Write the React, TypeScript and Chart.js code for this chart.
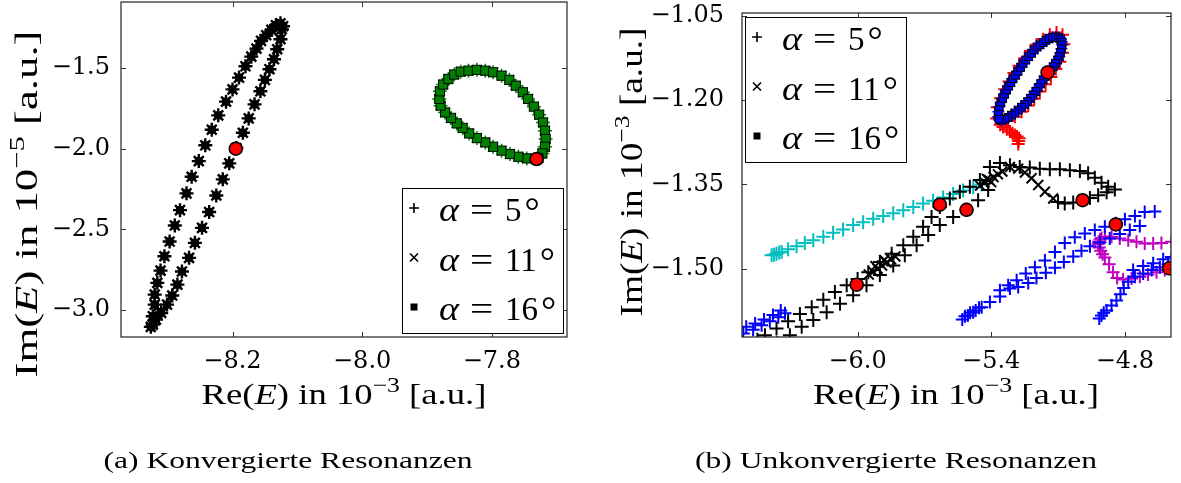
import React, { useEffect, useRef } from "react";
import { Chart, registerables } from "chart.js";

Chart.register(...registerables);

type Pt = [number, number];
type Seg = { t: string; it?: boolean; sup?: boolean };

// ---------- Panel (a): converged resonances ----------
const convXTicks = [-8.2, -8.0, -7.8];
const convYTicks = [-1.5, -2.0, -2.5, -3.0];
const convXLimits = [-8.372, -7.684];
const convYLimits = [-3.168, -1.09];

// elongated black orbit (Re in 1e-3, Im in 1e-5)
const convBlack: Pt[] = [
  [-8.326, -3.105], [-8.323, -3.091], [-8.323, -3.039], [-8.320, -2.967], [-8.320, -2.905],
  [-8.316, -2.832], [-8.311, -2.756], [-8.305, -2.667], [-8.297, -2.576], [-8.289, -2.476],
  [-8.281, -2.381], [-8.271, -2.277], [-8.263, -2.174], [-8.252, -2.077], [-8.242, -1.979],
  [-8.232, -1.882], [-8.222, -1.793], [-8.210, -1.708], [-8.200, -1.632], [-8.190, -1.559],
  [-8.180, -1.489], [-8.171, -1.429], [-8.163, -1.379], [-8.156, -1.331], [-8.148, -1.296],
  [-8.140, -1.263], [-8.133, -1.234], [-8.126, -1.222], [-8.122, -1.240], [-8.124, -1.259],
  [-8.126, -1.321], [-8.131, -1.383], [-8.136, -1.445], [-8.143, -1.507], [-8.150, -1.573],
  [-8.157, -1.644], [-8.166, -1.725], [-8.175, -1.812], [-8.184, -1.901], [-8.194, -1.996],
  [-8.205, -2.091], [-8.215, -2.190], [-8.225, -2.290], [-8.236, -2.393], [-8.247, -2.491],
  [-8.258, -2.584], [-8.267, -2.677], [-8.278, -2.762], [-8.285, -2.843], [-8.293, -2.911],
  [-8.301, -2.967], [-8.310, -3.019], [-8.318, -3.060],
];

// green closed loop
const convGreen: Pt[] = [
  [-7.731, -2.064], [-7.746, -2.060], [-7.759, -2.050], [-7.772, -2.033], [-7.785, -2.012],
  [-7.798, -1.988], [-7.810, -1.961], [-7.823, -1.934], [-7.835, -1.905], [-7.845, -1.871],
  [-7.854, -1.843], [-7.863, -1.809], [-7.872, -1.775], [-7.879, -1.733], [-7.881, -1.691],
  [-7.880, -1.644], [-7.875, -1.602], [-7.867, -1.567], [-7.858, -1.540], [-7.848, -1.522],
  [-7.836, -1.516], [-7.823, -1.511], [-7.810, -1.516], [-7.798, -1.526], [-7.785, -1.547],
  [-7.773, -1.573], [-7.763, -1.609], [-7.752, -1.650], [-7.744, -1.691], [-7.735, -1.739],
  [-7.727, -1.789], [-7.721, -1.837], [-7.718, -1.888], [-7.717, -1.940], [-7.718, -1.988],
  [-7.722, -2.029], [-7.728, -2.058],
];

const convMarked: Pt[] = [[-8.195, -2.0], [-7.731, -2.064]];

// ---------- Panel (b): unconverged resonances ----------
const unconvXTicks = [-6.0, -5.4, -4.8];
const unconvYTicks = [-1.05, -1.2, -1.35, -1.5];
const unconvXLimits = [-6.519, -4.593];
const unconvYLimits = [-1.621, -1.0455];

const ringBlue: Pt[] = [
  [-5.369, -1.230], [-5.368, -1.221], [-5.364, -1.212], [-5.357, -1.204], [-5.349, -1.197],
  [-5.340, -1.189], [-5.331, -1.182], [-5.322, -1.175], [-5.312, -1.169], [-5.302, -1.162],
  [-5.291, -1.156], [-5.280, -1.149], [-5.268, -1.142], [-5.257, -1.135], [-5.245, -1.129],
  [-5.232, -1.123], [-5.219, -1.117], [-5.207, -1.111], [-5.194, -1.106], [-5.181, -1.102],
  [-5.167, -1.098], [-5.154, -1.094], [-5.140, -1.091], [-5.125, -1.089], [-5.110, -1.088],
  [-5.098, -1.089], [-5.088, -1.092], [-5.083, -1.097], [-5.082, -1.102], [-5.085, -1.109],
  [-5.089, -1.116], [-5.095, -1.123], [-5.102, -1.129], [-5.112, -1.135], [-5.122, -1.141],
  [-5.134, -1.147], [-5.147, -1.152], [-5.157, -1.158], [-5.167, -1.164], [-5.178, -1.171],
  [-5.189, -1.178], [-5.200, -1.185], [-5.212, -1.191], [-5.224, -1.197], [-5.237, -1.203],
  [-5.250, -1.208], [-5.264, -1.213], [-5.279, -1.218], [-5.294, -1.223], [-5.309, -1.227],
  [-5.324, -1.231], [-5.339, -1.234], [-5.354, -1.236], [-5.364, -1.234],
];

const ringRed: Pt[] = [
  [-5.376, -1.233], [-5.373, -1.213], [-5.358, -1.197], [-5.339, -1.181], [-5.320, -1.167],
  [-5.298, -1.152], [-5.275, -1.139], [-5.250, -1.126], [-5.224, -1.113], [-5.197, -1.102],
  [-5.167, -1.092], [-5.137, -1.084], [-5.107, -1.080], [-5.080, -1.084], [-5.074, -1.101],
  [-5.080, -1.116], [-5.092, -1.132], [-5.110, -1.145], [-5.132, -1.159], [-5.156, -1.172],
  [-5.182, -1.185], [-5.207, -1.198], [-5.234, -1.210], [-5.264, -1.221], [-5.294, -1.230],
  [-5.324, -1.237], [-5.360, -1.244], [-5.347, -1.248], [-5.330, -1.252], [-5.316, -1.256],
  [-5.305, -1.259], [-5.294, -1.262], [-5.284, -1.265], [-5.275, -1.268], [-5.277, -1.273],
  [-5.279, -1.278],
];

const blackPlus: Pt[] = [
  // upper strand
  [-6.450, -1.626], [-6.416, -1.618], [-6.364, -1.606], [-6.312, -1.593], [-6.259, -1.580],
  [-6.206, -1.568], [-6.154, -1.555], [-6.102, -1.541], [-6.049, -1.529], [-6.000, -1.518],
  [-5.952, -1.506], [-5.900, -1.488], [-5.847, -1.473], [-5.795, -1.458], [-5.750, -1.443],
  [-5.706, -1.425], [-5.668, -1.408], [-5.631, -1.390], [-5.586, -1.375], [-5.541, -1.363],
  [-5.496, -1.354], [-5.451, -1.342],
  // lower strand
  [-6.360, -1.632], [-6.304, -1.618], [-6.251, -1.603], [-6.199, -1.591], [-6.139, -1.577],
  [-6.079, -1.562], [-6.020, -1.547], [-5.960, -1.529], [-5.900, -1.511], [-5.840, -1.494],
  [-5.788, -1.476], [-5.735, -1.458], [-5.683, -1.440], [-5.631, -1.422], [-5.571, -1.408],
  [-5.511, -1.395], [-5.459, -1.378], [-5.414, -1.360],
  // loop
  [-5.406, -1.319], [-5.361, -1.312], [-5.316, -1.316], [-5.272, -1.319], [-5.227, -1.320],
  [-5.182, -1.322], [-5.137, -1.323], [-5.092, -1.323], [-5.047, -1.325], [-5.002, -1.326],
  [-4.965, -1.330], [-4.935, -1.338], [-4.905, -1.347], [-4.875, -1.354], [-4.845, -1.359],
  [-4.882, -1.364], [-4.920, -1.369], [-4.957, -1.374], [-5.032, -1.382], [-5.070, -1.384],
  [-5.100, -1.381],
];

const blackCross: Pt[] = [
  [-5.122, -1.375], [-5.159, -1.363], [-5.189, -1.351], [-5.219, -1.339], [-5.249, -1.329],
  [-5.279, -1.322], [-5.316, -1.319],
  [-5.450, -1.352], [-5.430, -1.347], [-5.410, -1.342], [-5.390, -1.337], [-5.370, -1.332],
  [-5.350, -1.327], [-5.420, -1.340], [-5.400, -1.346],
  [-5.950, -1.510], [-5.930, -1.505], [-5.910, -1.500], [-5.890, -1.494], [-5.870, -1.489],
  [-5.850, -1.483], [-5.830, -1.478], [-5.920, -1.495], [-5.880, -1.484],
];

const cyanPlus: Pt[] = [
  [-6.386, -1.476], [-6.375, -1.475], [-6.364, -1.473], [-6.352, -1.471], [-6.341, -1.470],
  [-6.312, -1.465], [-6.274, -1.460], [-6.237, -1.454], [-6.199, -1.449], [-6.154, -1.443],
  [-6.110, -1.436], [-6.065, -1.430], [-6.020, -1.422], [-5.975, -1.417], [-5.930, -1.411],
  [-5.885, -1.406], [-5.840, -1.401], [-5.795, -1.396], [-5.750, -1.390], [-5.706, -1.384],
  [-5.661, -1.379], [-5.616, -1.373], [-5.571, -1.367], [-5.526, -1.361], [-5.481, -1.355],
  [-5.443, -1.350],
];

const bluePlus: Pt[] = [
  // bottom-left strand
  [-6.513, -1.615], [-6.469, -1.608], [-6.431, -1.600], [-6.394, -1.593], [-6.356, -1.586],
  [-6.326, -1.579], [-6.500, -1.603], [-6.460, -1.597], [-6.420, -1.590], [-6.380, -1.582],
  [-6.345, -1.574],
  // middle strands
  [-5.530, -1.590], [-5.505, -1.583], [-5.495, -1.578], [-5.470, -1.574], [-5.455, -1.569],
  [-5.518, -1.584], [-5.481, -1.577], [-5.443, -1.568], [-5.406, -1.559], [-5.361, -1.549],
  [-5.316, -1.535], [-5.279, -1.532], [-5.234, -1.525], [-5.197, -1.516], [-5.155, -1.507],
  [-5.114, -1.498], [-5.074, -1.488], [-5.032, -1.478], [-4.995, -1.468], [-4.957, -1.460],
  [-4.912, -1.453], [-4.868, -1.446], [-4.823, -1.438], [-4.778, -1.431], [-4.733, -1.424],
  [-5.361, -1.538], [-5.324, -1.529], [-5.286, -1.520], [-5.245, -1.508], [-5.204, -1.497],
  [-5.159, -1.485], [-5.114, -1.470], [-5.070, -1.454], [-5.025, -1.444], [-4.980, -1.437],
  [-4.935, -1.431], [-4.890, -1.425], [-4.841, -1.419], [-4.800, -1.412], [-4.755, -1.406],
  [-4.711, -1.399], [-4.666, -1.398],
  // lower-right strand
  [-4.915, -1.588], [-4.905, -1.583], [-4.895, -1.578], [-4.882, -1.574], [-4.860, -1.565],
  [-4.838, -1.556], [-4.820, -1.545], [-4.805, -1.534], [-4.785, -1.523], [-4.755, -1.514],
  [-4.718, -1.508], [-4.680, -1.502], [-4.643, -1.497], [-4.606, -1.492], [-4.763, -1.502],
  [-4.718, -1.495], [-4.673, -1.490], [-4.628, -1.483], [-4.591, -1.479],
];

const magentaPlus: Pt[] = [
  [-4.591, -1.452], [-4.636, -1.454], [-4.673, -1.455], [-4.711, -1.455], [-4.748, -1.452],
  [-4.785, -1.449], [-4.823, -1.446], [-4.860, -1.443], [-4.890, -1.443], [-4.905, -1.445],
  [-4.912, -1.448], [-4.918, -1.452], [-4.920, -1.456], [-4.915, -1.462], [-4.909, -1.468],
  [-4.900, -1.474], [-4.890, -1.480], [-4.871, -1.492], [-4.853, -1.506], [-4.835, -1.516],
  [-4.808, -1.519], [-4.770, -1.517], [-4.733, -1.514], [-4.696, -1.510], [-4.658, -1.506],
  [-4.621, -1.502],
];

const unconvMarked: Pt[] = [
  [-5.147, -1.151], [-5.631, -1.386], [-5.511, -1.395], [-4.990, -1.378],
  [-4.841, -1.421], [-6.004, -1.528], [-4.601, -1.499],
];

// legend entries: rotation angle alpha in degrees and its marker
const alphaDegrees = [5, 11, 16];
const alphaMarkers = ["cross", "crossRot", "rect"];

// ---------- helpers ----------
const SERIF = '"Liberation Serif", "Times New Roman", Times, serif';
const TICK_FONT = '"DejaVu Serif", serif';

const fmt = (v: number, d: number) => (v < 0 ? "\u2212" : "") + Math.abs(v).toFixed(d);

function markers(data: Pt[], style: string, radius: number, stroke: string, fill: string, lw: number, order: number) {
  return {
    data: data.map(([x, y]) => ({ x, y })),
    pointStyle: style,
    pointRadius: radius,
    pointHoverRadius: radius,
    pointBorderColor: stroke,
    pointBackgroundColor: fill,
    pointBorderWidth: lw,
    showLine: false,
    clip: 0,
    order,
  };
}

function segFont(s: Seg, size: number) {
  return `${s.it ? "italic " : ""}${Math.round(s.sup ? size * 0.7 : size)}px ${SERIF}`;
}

// draws a run of text segments centred on (cx, base), stretched to a given length
function drawRich(ctx: CanvasRenderingContext2D, segs: Seg[], size: number, cx: number, base: number, len: number, vertical = false) {
  ctx.save();
  const widths = segs.map((s) => {
    ctx.font = segFont(s, size);
    return ctx.measureText(s.t).width;
  });
  const total = widths.reduce((a, b) => a + b, 0);
  ctx.translate(cx, base);
  if (vertical) ctx.rotate(-Math.PI / 2);
  ctx.scale(len / total, 1);
  ctx.fillStyle = "#000";
  ctx.textAlign = "left";
  ctx.textBaseline = "alphabetic";
  let x = -total / 2;
  segs.forEach((s, i) => {
    ctx.font = segFont(s, size);
    ctx.fillText(s.t, x, s.sup ? -size * 0.4 : 0);
    x += widths[i];
  });
  ctx.restore();
}

function legendMarker(ctx: CanvasRenderingContext2D, kind: string, x: number, y: number) {
  ctx.save();
  ctx.strokeStyle = "#000";
  ctx.fillStyle = "#000";
  ctx.lineWidth = 1.6;
  ctx.beginPath();
  if (kind === "cross") {
    ctx.moveTo(x - 5, y); ctx.lineTo(x + 5, y);
    ctx.moveTo(x, y - 5); ctx.lineTo(x, y + 5);
    ctx.stroke();
  } else if (kind === "crossRot") {
    ctx.moveTo(x - 4, y - 4); ctx.lineTo(x + 4, y + 4);
    ctx.moveTo(x + 4, y - 4); ctx.lineTo(x - 4, y + 4);
    ctx.stroke();
  } else {
    ctx.fillRect(x - 3.5, y - 3.5, 7, 7);
  }
  ctx.restore();
}

type Panel = {
  left: number; width: number; padTop: number; padRight: number; yAxisWidth: number;
  xTickPad: number; yTickPad: number; xDec: number; yDec: number;
  xLimits: number[]; yLimits: number[]; xTicks: number[]; yTicks: number[];
  xTitle: Seg[]; xTitleCx: number; xTitleLen: number;
  yTitle: Seg[]; yTitleBase: number; yTitleCy: number; yTitleLen: number;
  legendX: number; legendY: number;
  caption: string; captionCx: number; captionLen: number;
  datasets: any[];
};

function decorations(p: Panel) {
  return {
    id: "panelDecor",
    afterDraw(chart: any) {
      const ctx: CanvasRenderingContext2D = chart.ctx;
      const a = chart.chartArea;
      const xs = chart.scales.x;
      const ys = chart.scales.y;
      const ox = p.left;
      ctx.save();
      // inward tick marks on all four sides
      ctx.strokeStyle = "#333";
      ctx.lineWidth = 1;
      ctx.beginPath();
      xs.ticks.forEach((t: any) => {
        const px = Math.round(xs.getPixelForValue(t.value)) + 0.5;
        ctx.moveTo(px, a.bottom); ctx.lineTo(px, a.bottom - 5);
        ctx.moveTo(px, a.top); ctx.lineTo(px, a.top + 5);
      });
      ys.ticks.forEach((t: any) => {
        const py = Math.round(ys.getPixelForValue(t.value)) + 0.5;
        ctx.moveTo(a.left, py); ctx.lineTo(a.left + 5, py);
        ctx.moveTo(a.right, py); ctx.lineTo(a.right - 5, py);
      });
      ctx.stroke();
      // axes frame
      ctx.strokeStyle = "#222";
      ctx.lineWidth = 1.2;
      ctx.strokeRect(a.left, a.top, a.right - a.left, a.bottom - a.top);

      // legend
      const lx = p.legendX - ox;
      const ly = p.legendY;
      ctx.fillStyle = "#fff";
      ctx.fillRect(lx, ly, 161, 145);
      ctx.strokeStyle = "#000";
      ctx.lineWidth = 1;
      ctx.strokeRect(lx + 0.5, ly + 0.5, 161, 145);
      alphaDegrees.forEach((deg, i) => {
        legendMarker(ctx, alphaMarkers[i], lx + 12, ly + 20 + i * 49.5);
        const base = ly + 33 + i * 49.5;
        ctx.fillStyle = "#000";
        ctx.textAlign = "left";
        ctx.textBaseline = "alphabetic";
        ctx.save();
        ctx.translate(lx + 37, base);
        ctx.scale(1.15, 1);
        ctx.font = `italic 33px ${SERIF}`;
        ctx.fillText("\u03b1", 0, 0);
        ctx.restore();
        ctx.save();
        ctx.translate(lx + 68, base);
        ctx.scale(1.25, 1);
        ctx.font = `33px ${SERIF}`;
        ctx.fillText("=", 0, 0);
        ctx.restore();
        ctx.font = `33px ${SERIF}`;
        const num = String(deg);
        ctx.fillText(num, lx + 103, base);
        const w = ctx.measureText(num).width;
        ctx.font = `38px ${SERIF}`;
        ctx.fillText("\u00b0", lx + 103 + w + 3, base + 3);
      });

      // axis titles and caption
      drawRich(ctx, p.xTitle, 30, p.xTitleCx - ox, 404, p.xTitleLen);
      drawRich(ctx, p.yTitle, 32, p.yTitleBase - ox, p.yTitleCy, p.yTitleLen, true);
      drawRich(ctx, [{ t: p.caption }], 24, p.captionCx - ox, 468, p.captionLen);
      ctx.restore();
    },
  };
}

function PanelChart({ p }: { p: Panel }) {
  const ref = useRef<HTMLCanvasElement>(null);
  useEffect(() => {
    const chart = new Chart(ref.current as HTMLCanvasElement, {
      type: "scatter",
      data: { datasets: p.datasets },
      options: {
        animation: false,
        responsive: false,
        events: [],
        layout: { autoPadding: false, padding: { left: 0, top: p.padTop, right: p.padRight, bottom: 0 } },
        plugins: { legend: { display: false }, tooltip: { enabled: false } },
        scales: {
          x: {
            type: "linear",
            position: "bottom",
            min: p.xLimits[0],
            max: p.xLimits[1],
            afterBuildTicks: (s: any) => { s.ticks = p.xTicks.map((v) => ({ value: v })); },
            afterFit: (s: any) => { s.height = 146; s.paddingLeft = 0; s.paddingRight = 0; },
            grid: { display: false },
            border: { display: false },
            ticks: {
              color: "#000",
              font: { family: TICK_FONT, size: 24 },
              padding: p.xTickPad,
              maxRotation: 0,
              autoSkip: false,
              callback: (v: any) => fmt(Number(v), p.xDec),
            },
          },
          y: {
            type: "linear",
            position: "left",
            min: p.yLimits[0],
            max: p.yLimits[1],
            afterBuildTicks: (s: any) => { s.ticks = p.yTicks.map((v) => ({ value: v })); },
            afterFit: (s: any) => { s.width = p.yAxisWidth; s.paddingTop = 0; s.paddingBottom = 0; },
            grid: { display: false },
            border: { display: false },
            ticks: {
              color: "#000",
              font: { family: TICK_FONT, size: 24 },
              padding: p.yTickPad,
              autoSkip: false,
              callback: (v: any) => fmt(Number(v), p.yDec),
            },
          },
        },
      } as any,
      plugins: [decorations(p)],
    });
    // redraw once the serif faces are resolved
    let alive = true;
    Promise.all([
      document.fonts.load('30px "Liberation Serif"'),
      document.fonts.load('italic 30px "Liberation Serif"'),
      document.fonts.load('24px "DejaVu Serif"'),
    ]).then(() => { if (alive) chart.update(); }).catch(() => {});
    return () => { alive = false; chart.destroy(); };
  }, []);
  return (
    <canvas
      ref={ref}
      width={p.width}
      height={483}
      style={{ position: "absolute", left: p.left, top: 0, width: p.width, height: 483 }}
    />
  );
}

const reTitle: Seg[] = [{ t: "Re(" }, { t: "E", it: true }, { t: ") in 10" }, { t: "\u22123", sup: true }, { t: " [a.u.]" }];
const imTitle5: Seg[] = [{ t: "Im(" }, { t: "E", it: true }, { t: ") in 10" }, { t: "\u22125", sup: true }, { t: " [a.u.]" }];
const imTitle3: Seg[] = [{ t: "Im(" }, { t: "E", it: true }, { t: ") in 10" }, { t: "\u22123", sup: true }, { t: " [a.u.]" }];

const panelA: Panel = {
  left: 0, width: 595, padTop: 2, padRight: 28, yAxisWidth: 121,
  xTickPad: 2, yTickPad: 3, xDec: 1, yDec: 1,
  xLimits: convXLimits, yLimits: convYLimits, xTicks: convXTicks, yTicks: convYTicks,
  xTitle: reTitle, xTitleCx: 344, xTitleLen: 285,
  yTitle: imTitle5, yTitleBase: 37, yTitleCy: 204, yTitleLen: 347,
  legendX: 402, legendY: 188,
  caption: "(a) Konvergierte Resonanzen", captionCx: 288, captionLen: 369,
  datasets: [
    markers(convMarked, "circle", 6.5, "#000", "#ff0000", 1.5, 0),
    markers(convGreen, "rect", 6.5, "#000", "#008000", 1, 1),
    markers(convGreen, "cross", 7, "#008000", "#008000", 1.5, 2),
    markers(convGreen, "crossRot", 7, "#008000", "#008000", 1.5, 3),
    markers(convBlack, "rect", 5, "#000", "#000", 1, 4),
    markers(convBlack, "cross", 7, "#000", "#000", 2.4, 5),
    markers(convBlack, "crossRot", 7, "#000", "#000", 2.4, 6),
  ],
};

const panelB: Panel = {
  left: 595, width: 586, padTop: 13, padRight: 10, yAxisWidth: 147,
  xTickPad: 2, yTickPad: 10, xDec: 1, yDec: 2,
  xLimits: unconvXLimits, yLimits: unconvYLimits, xTicks: unconvXTicks, yTicks: unconvYTicks,
  xTitle: reTitle, xTitleCx: 956, xTitleLen: 286,
  yTitle: imTitle3, yTitleBase: 642, yTitleCy: 172, yTitleLen: 289,
  legendX: 745, legendY: 17,
  caption: "(b) Unkonvergierte Resonanzen", captionCx: 896, captionLen: 402,
  datasets: [
    markers(unconvMarked, "circle", 6.5, "#000", "#ff0000", 1.5, 0),
    markers(ringBlue, "rect", 5.5, "#000", "#0000ff", 1, 1),
    markers(ringBlue, "cross", 6, "#0000ff", "#0000ff", 1.5, 2),
    markers(ringBlue, "crossRot", 6, "#0000ff", "#0000ff", 1.5, 3),
    markers(bluePlus, "cross", 6.5, "#0000ff", "#0000ff", 2, 4),
    markers(blackPlus, "cross", 7, "#000", "#000", 2, 5),
    markers(blackCross, "crossRot", 7, "#000", "#000", 2, 6),
    markers(cyanPlus, "cross", 7, "#00bfbf", "#00bfbf", 2, 7),
    markers(magentaPlus, "cross", 6.5, "#bf00bf", "#bf00bf", 2, 8),
    markers(ringRed, "cross", 6.5, "#ff0000", "#ff0000", 2, 9),
  ],
};

export default function App() {
  return (
    <div style={{ position: "absolute", left: 0, top: 0, width: 1181, height: 483, background: "#fff", overflow: "hidden" }}>
      <PanelChart p={panelA} />
      <PanelChart p={panelB} />
    </div>
  );
}
